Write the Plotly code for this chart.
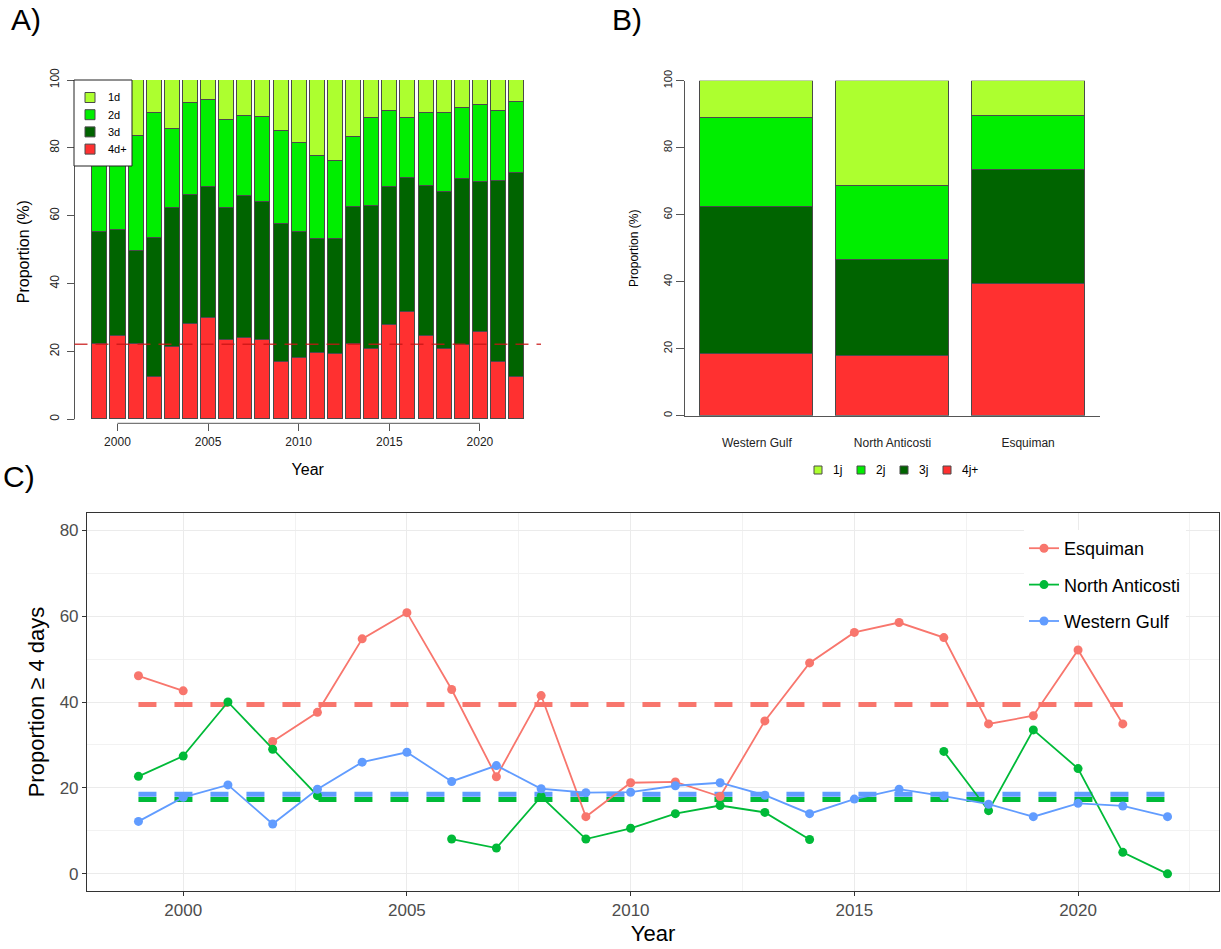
import numpy as np
import plotly.graph_objects as go

W, H = 1221, 949
FONT = "Liberation Sans, Arial, sans-serif"


def px(x):
    return x / W


def py(y):
    return 1 - y / H


# ---- Panel A: yearly proportions by duration class (%) ----
years_a = list(range(1999, 2023))
pct_4d = [22.2, 24.6, 22.2, 12.6, 21.4, 28.0, 29.8, 23.3, 24.1, 23.5, 17.0, 18.1,
          19.5, 19.3, 22.2, 20.6, 27.8, 31.6, 24.5, 20.8, 21.9, 25.6, 17.0, 12.4]
pct_3d = [32.9, 31.2, 27.5, 40.8, 41.0, 38.1, 38.7, 39.1, 41.7, 40.6, 40.7, 37.0,
          33.6, 33.8, 40.4, 42.3, 40.6, 39.4, 44.2, 46.2, 48.9, 44.2, 53.1, 60.2]
pct_2d = [26.9, 29.2, 33.7, 37.0, 23.3, 27.0, 25.6, 25.9, 23.5, 24.9, 27.4, 26.3,
          24.6, 22.9, 20.5, 25.9, 22.6, 17.7, 21.6, 23.2, 21.0, 22.7, 20.8, 21.0]
pct_1d = [18.0, 15.0, 16.6, 9.6, 14.3, 6.9, 5.9, 11.7, 10.7, 11.0, 14.9, 18.6,
          22.3, 24.0, 16.9, 11.2, 9.0, 11.3, 9.7, 9.8, 8.2, 7.5, 9.1, 6.4]
classes_a = ["1d", "2d", "3d", "4d+"]

# ---- Panel B: proportions by region (%) ----
regions = ["Western Gulf", "North Anticosti", "Esquiman"]
reg_4j = [18.4, 18.0, 39.5]
reg_3j = [43.9, 28.5, 33.8]
reg_2j = [26.8, 22.2, 16.3]
reg_1j = [10.9, 31.3, 10.4]
classes_b = ["1j", "2j", "3j", "4j+"]

# ---- Panel C: proportion >= 4 days by region and year ----
years_c = list(range(1999, 2023))
esquiman = [46.1, 42.6, None, 30.8, 37.6, 54.7, 60.8, 42.9, 22.6, 41.5, 13.3, 21.2,
            21.4, 18.0, 35.6, 49.1, 56.2, 58.5, 55.0, 34.9, 36.8, 52.1, 34.9, None]
north_anticosti = [22.7, 27.4, 40.0, 29.0, 18.2, None, None, 8.1, 6.0, 18.0, 8.1, 10.6,
                   14.0, 15.9, 14.3, 8.0, None, None, 28.5, 14.7, 33.5, 24.5, 5.0, 0.0]
western_gulf = [12.2, 17.8, 20.7, 11.6, 19.7, 26.0, 28.3, 21.5, 25.2, 19.8, 18.9, 19.0,
                20.5, 21.2, 18.3, 14.0, 17.4, 19.7, 18.1, 16.2, 13.3, 16.4, 15.8, 13.3]

C_1 = "#ADFF2F"
C_2 = "#00EE00"
C_3 = "#006400"
C_4 = "#FF3030"
class_colors = [C_1, C_2, C_3, C_4]
EDGE = "#4a4a4a"

fig = go.Figure()

# Stacked bars, panel A (bottom class first)
bar_w = 1 / 1.2
for vals, name, col in [(pct_4d, "4d+", C_4), (pct_3d, "3d", C_3),
                        (pct_2d, "2d", C_2), (pct_1d, "1d", C_1)]:
    fig.add_trace(go.Bar(x=years_a, y=vals, name=name, width=bar_w,
                         marker=dict(color=col, line=dict(color=EDGE, width=1)),
                         showlegend=False, xaxis="x", yaxis="y"))

# Stacked bars, panel B
for vals, name, col in [(reg_4j, "4j+", C_4), (reg_3j, "3j", C_3),
                        (reg_2j, "2j", C_2), (reg_1j, "1j", C_1)]:
    fig.add_trace(go.Bar(x=regions, y=vals, name=name, width=bar_w,
                         marker=dict(color=col, line=dict(color=EDGE, width=1)),
                         showlegend=False, xaxis="x2", yaxis="y2"))

# Lines, panel C
series = [("Esquiman", esquiman, "#F8766D"),
          ("North Anticosti", north_anticosti, "#00BA38"),
          ("Western Gulf", western_gulf, "#619CFF")]

# per-region mean over the observed years, drawn under the series
for name, vals, col in [series[1], series[2], series[0]]:
    arr = np.array([np.nan if v is None else v for v in vals], dtype=float)
    ok = ~np.isnan(arr)
    yrs = np.array(years_c)[ok]
    m = float(np.nanmean(arr))
    fig.add_trace(go.Scatter(x=[yrs.min(), yrs.max()], y=[m, m], mode="lines",
                             line=dict(color=col, width=5, dash="18px,18px"),
                             showlegend=False, hoverinfo="skip",
                             xaxis="x3", yaxis="y3"))

for name, vals, col in series:
    fig.add_trace(go.Scatter(x=years_c, y=vals, name=name, mode="lines+markers",
                             connectgaps=False, legendgroup=name,
                             line=dict(color=col, width=1.8),
                             marker=dict(color=col, size=9),
                             xaxis="x3", yaxis="y3", legend="legend"))

mean_4d = float(np.mean(pct_4d))

base_ax = dict(automargin=False, zeroline=False, showgrid=False)
ink = "#333333"

shapes = [
    # panel A axis lines
    dict(type="line", xref="paper", yref="y", x0=px(74.5), x1=px(74.5),
         y0=0, y1=100, line=dict(color="#555", width=1)),
    dict(type="line", xref="x", yref="paper", x0=2000, x1=2020,
         y0=py(423.3), y1=py(423.3), line=dict(color="#555", width=1)),
    # panel A overall mean of the 4d+ class
    dict(type="line", xref="paper", yref="y", x0=px(74.5), x1=px(541),
         y0=mean_4d, y1=mean_4d, layer="above",
         line=dict(color="rgba(200,20,20,0.8)", width=1.5, dash="13px,8px")),
    # panel A legend frame
    dict(type="rect", xref="paper", yref="paper", x0=px(74), x1=px(132),
         y0=py(166), y1=py(80), layer="above", fillcolor="white",
         line=dict(color="#222", width=1)),
]
annotations = [
    dict(text="A)", x=px(26), y=py(20)),
    dict(text="B)", x=px(627), y=py(20)),
    dict(text="C)", x=px(19), y=py(477)),
]
for a in annotations:
    a.update(xref="paper", yref="paper", showarrow=False, xanchor="center",
             yanchor="middle", font=dict(size=30))

# panel A key: one row per class
for i, (lab, col) in enumerate(zip(classes_a, class_colors)):
    yc = 97.5 + 17.2 * i
    shapes.append(dict(type="rect", xref="paper", yref="paper",
                       x0=px(85), x1=px(95), y0=py(yc + 5), y1=py(yc - 5),
                       layer="above", fillcolor=col,
                       line=dict(color=EDGE, width=1)))
    annotations.append(dict(text=lab, x=px(106), y=py(yc), xref="paper",
                            yref="paper", showarrow=False, xanchor="left",
                            yanchor="middle", font=dict(size=11)))

# panel B key: one column per class
for i, (lab, col) in enumerate(zip(classes_b, class_colors)):
    xc = 818 + 43 * i
    shapes.append(dict(type="rect", xref="paper", yref="paper",
                       x0=px(xc - 4), x1=px(xc + 4), y0=py(474), y1=py(466),
                       layer="above", fillcolor=col,
                       line=dict(color=EDGE, width=1)))
    annotations.append(dict(text=lab, x=px(xc + 13), y=py(470), xref="paper",
                            yref="paper", showarrow=False, xanchor="left",
                            yanchor="middle", font=dict(size=12)))

fig.update_layout(
    width=W, height=H,
    margin=dict(l=0, r=0, t=0, b=0),
    paper_bgcolor="white", plot_bgcolor="rgba(0,0,0,0)",
    barmode="stack", bargap=0,
    font=dict(family=FONT, color="black"),
    # panel A
    xaxis=dict(**base_ax, domain=[px(74.5), px(541)], range=[1997.63, 2023.37],
               anchor="y", tickvals=[2000, 2005, 2010, 2015, 2020],
               ticks="outside", ticklen=7, tickcolor="#555", tickwidth=1,
               tickfont=dict(size=12, color="#222"),
               title=dict(text="Year", font=dict(size=16), standoff=16)),
    yaxis=dict(**base_ax, domain=[py(423.3), py(80)], range=[-1.18, 100],
               anchor="x", tickvals=[0, 20, 40, 60, 80, 100], tickangle=-90,
               ticks="outside", ticklen=7, tickcolor="#555", tickwidth=1,
               ticklabelstandoff=3,
               tickfont=dict(size=12, color="#222"),
               title=dict(text="Proportion (%)", font=dict(size=16), standoff=14)),
    # panel B
    xaxis2=dict(**base_ax, domain=[px(685), px(1100)], range=[-0.53, 2.53],
                anchor="y2", type="category", showline=True, linecolor="#555",
                linewidth=1, ticks="", ticklabelstandoff=16,
                tickfont=dict(size=12, color="#222")),
    yaxis2=dict(**base_ax, domain=[py(415.7), py(80.7)], range=[0, 100],
                anchor="x2", tickvals=[0, 20, 40, 60, 80, 100], tickangle=-90,
                showline=True, linecolor="#555", linewidth=1,
                ticks="outside", ticklen=8, tickcolor="#555",
                tickfont=dict(size=11, color="#222"),
                title=dict(text="Proportion (%)", font=dict(size=12), standoff=20)),
    # panel C
    xaxis3=dict(automargin=False, zeroline=False, domain=[px(87), px(1219)],
                range=[1997.85, 2023.15], anchor="y3", tick0=2000, dtick=5,
                showgrid=True, gridcolor="#EBEBEB", gridwidth=1.2,
                minor=dict(tick0=2000, dtick=2.5, showgrid=True,
                           gridcolor="#F2F2F2", gridwidth=0.7),
                showline=True, mirror=True, linecolor=ink, linewidth=1.1,
                ticks="outside", ticklen=4, tickcolor=ink,
                tickfont=dict(size=17, color="#4D4D4D"),
                title=dict(text="Year", font=dict(size=22), standoff=6)),
    yaxis3=dict(automargin=False, zeroline=False, domain=[py(891), py(513)],
                range=[-4, 84], anchor="x3", tick0=0, dtick=20,
                showgrid=True, gridcolor="#EBEBEB", gridwidth=1.2,
                minor=dict(tick0=0, dtick=10, showgrid=True,
                           gridcolor="#F2F2F2", gridwidth=0.7),
                showline=True, mirror=True, linecolor=ink, linewidth=1.1,
                ticks="outside", ticklen=4, tickcolor=ink,
                tickfont=dict(size=17, color="#4D4D4D"),
                title=dict(text="Proportion ≥ 4 days", font=dict(size=22), standoff=8)),
    legend=dict(x=px(1024), y=py(530), xanchor="left", yanchor="top",
                bgcolor="white", font=dict(size=18), itemwidth=30,
                traceorder="grouped", tracegroupgap=10),
    shapes=shapes,
    annotations=annotations,
)

fig.write_html("out.html")
